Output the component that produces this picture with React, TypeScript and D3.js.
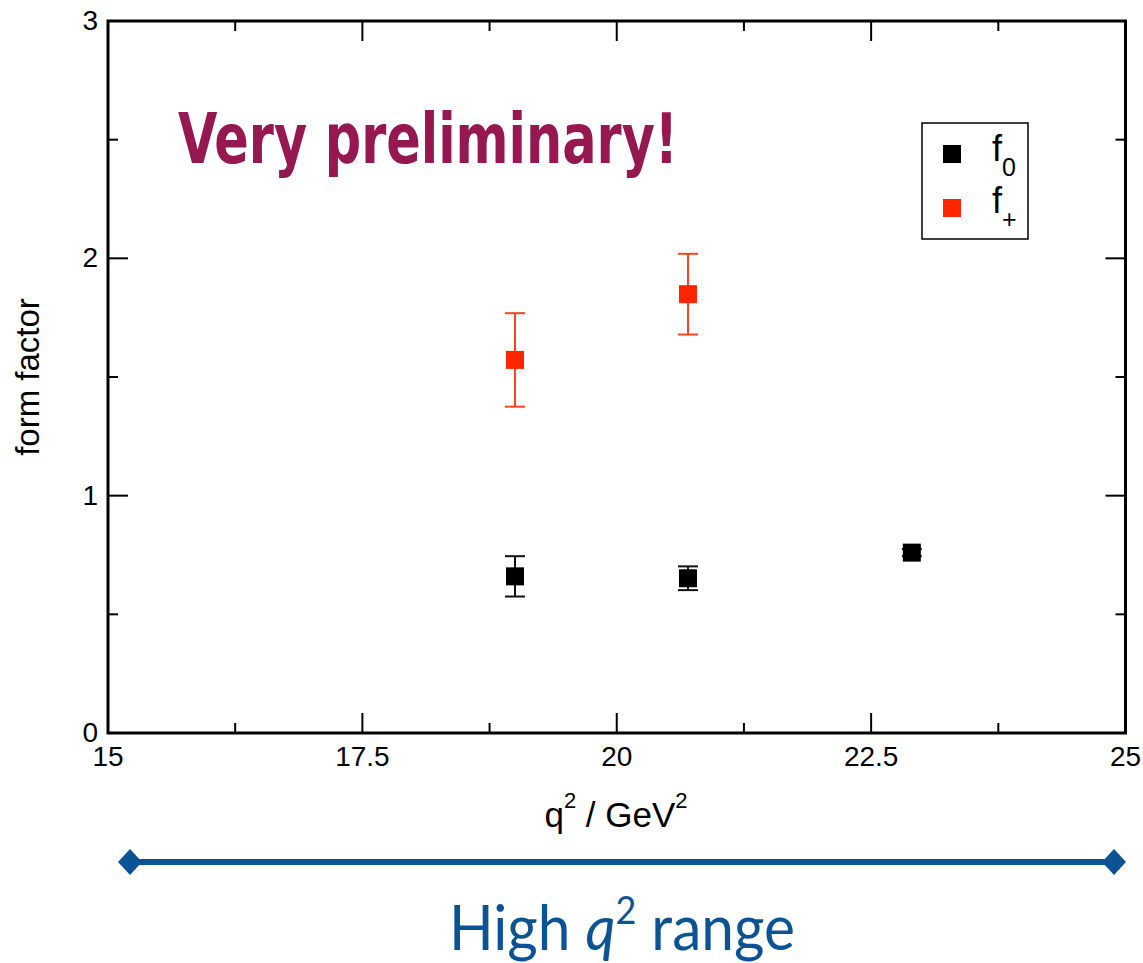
import React, { useEffect, useRef } from "react";
import * as d3 from "d3";

// data
const f0X = [19.0, 20.7, 22.9];
const f0Y = [0.66, 0.652, 0.76];
const f0Err = [0.085, 0.05, 0.015];

const fpX = [19.0, 20.7];
const fpY = [1.572, 1.849];
const fpErr = [0.197, 0.17];

const xMajor = [15, 17.5, 20, 22.5, 25];
const xMajorLabels = ["15", "17.5", "20", "22.5", "25"];
const xMinor = [16.25, 18.75, 21.25, 23.75];
const yMajor = [0, 1, 2, 3];
const yMinor = [0.5, 1.5, 2.5];

const W = 1143, H = 963;
const FONT = "'Liberation Sans', Arial, Helvetica, sans-serif";

export default function App() {
  const ref = useRef<SVGSVGElement>(null);

  useEffect(() => {
    const svg = d3.select(ref.current);
    svg.selectAll("*").remove();

    const left = 108, right = 1125.5, top = 21, bottom = 733;
    const x = d3.scaleLinear().domain([15, 25]).range([left, right]);
    const y = d3.scaleLinear().domain([0, 3]).range([bottom, top]);

    const g = svg.append("g");

    // ticks on all four sides, pointing inward
    const tick = (x1, y1, x2, y2) =>
      g.append("line").attr("x1", x1).attr("y1", y1).attr("x2", x2).attr("y2", y2)
        .attr("stroke", "#000").attr("stroke-width", 2);

    xMajor.forEach(v => { tick(x(v), bottom, x(v), bottom - 20); tick(x(v), top, x(v), top + 20); });
    xMinor.forEach(v => { tick(x(v), bottom, x(v), bottom - 10); tick(x(v), top, x(v), top + 10); });
    yMajor.forEach(v => { tick(left, y(v), left + 20, y(v)); tick(right, y(v), right - 20, y(v)); });
    yMinor.forEach(v => { tick(left, y(v), left + 10, y(v)); tick(right, y(v), right - 10, y(v)); });

    g.append("rect")
      .attr("x", left).attr("y", top)
      .attr("width", right - left).attr("height", bottom - top)
      .attr("fill", "none").attr("stroke", "#000").attr("stroke-width", 3);

    // tick labels
    g.selectAll(".xl").data(xMajor).join("text")
      .attr("x", d => x(d)).attr("y", 766)
      .attr("text-anchor", "middle")
      .style("font-family", FONT).style("font-size", "28px")
      .text((d, i) => xMajorLabels[i]);

    g.selectAll(".yl").data(yMajor).join("text")
      .attr("x", 98).attr("y", d => y(d) + 9)
      .attr("text-anchor", "end")
      .style("font-family", FONT).style("font-size", "28px")
      .text(d => String(d));

    // axis titles
    const xt = g.append("text")
      .attr("x", 616).attr("y", 827)
      .attr("text-anchor", "middle")
      .style("font-family", FONT).style("font-size", "35px");
    xt.append("tspan").text("q");
    xt.append("tspan").attr("dy", -19).style("font-size", "22px").text("2");
    xt.append("tspan").attr("dy", 19).text(" / GeV");
    xt.append("tspan").attr("dy", -19).style("font-size", "22px").text("2");

    g.append("text")
      .attr("transform", "translate(39,377) rotate(-90)")
      .attr("text-anchor", "middle")
      .style("font-family", FONT).style("font-size", "33px")
      .text("form factor");

    // error bars + markers
    const drawSeries = (xs, ys, es, color, barColor) => {
      xs.forEach((xv, i) => {
        const cx = x(xv), y1 = y(ys[i] + es[i]), y2 = y(ys[i] - es[i]);
        g.append("line").attr("x1", cx).attr("x2", cx).attr("y1", y1).attr("y2", y2)
          .attr("stroke", barColor).attr("stroke-width", 2);
        [y1, y2].forEach(yy =>
          g.append("line").attr("x1", cx - 10).attr("x2", cx + 10).attr("y1", yy).attr("y2", yy)
            .attr("stroke", barColor).attr("stroke-width", 2));
      });
      g.selectAll(null).data(xs).join("rect")
        .attr("x", d => x(d) - 9).attr("y", (d, i) => y(ys[i]) - 9)
        .attr("width", 18).attr("height", 18)
        .attr("fill", color);
    };
    drawSeries(f0X, f0Y, f0Err, "#000", "#111");
    drawSeries(fpX, fpY, fpErr, "#ff2600", "#ff4422");

    // legend
    g.append("rect").attr("x", 922).attr("y", 123).attr("width", 106).attr("height", 116)
      .attr("fill", "#fff").attr("stroke", "#000").attr("stroke-width", 1.5);
    g.append("rect").attr("x", 943).attr("y", 145).attr("width", 18).attr("height", 18).attr("fill", "#000");
    g.append("rect").attr("x", 943).attr("y", 199).attr("width", 18).attr("height", 18).attr("fill", "#ff2600");
    const l0 = g.append("text").attr("x", 992).attr("y", 161).style("font-family", FONT).style("font-size", "36px");
    l0.append("tspan").text("f");
    l0.append("tspan").attr("dy", 15).style("font-size", "25px").text("0");
    const l1 = g.append("text").attr("x", 992).attr("y", 213).style("font-family", FONT).style("font-size", "36px");
    l1.append("tspan").text("f");
    l1.append("tspan").attr("dy", 15).style("font-size", "25px").text("+");

    // annotation
    g.append("text")
      .attr("x", 178).attr("y", 163)
      .attr("textLength", 500).attr("lengthAdjust", "spacingAndGlyphs")
      .style("font-family", "'DejaVu Sans Condensed', 'DejaVu Sans', sans-serif")
      .style("font-weight", "bold").style("font-size", "70px")
      .attr("fill", "#951850")
      .text("Very preliminary!");

    // range arrow below the chart
    const blue = "#0b5394";
    g.append("line").attr("x1", 130).attr("x2", 1114).attr("y1", 862).attr("y2", 862)
      .attr("stroke", blue).attr("stroke-width", 6);
    [130, 1114].forEach(cx =>
      g.append("path")
        .attr("d", `M${cx - 12},862 L${cx},849 L${cx + 12},862 L${cx},875 Z`)
        .attr("fill", blue));

    const ht = g.append("text")
      .attr("x", 622).attr("y", 950)
      .attr("text-anchor", "middle")
      .attr("textLength", 346).attr("lengthAdjust", "spacingAndGlyphs")
      .style("font-family", "Lato, 'Open Sans', sans-serif")
      .style("font-size", "62px").attr("fill", blue);
    ht.append("tspan").text("High ");
    ht.append("tspan").style("font-style", "italic").text("q");
    ht.append("tspan").attr("dy", -26).style("font-size", "38px").text("2");
    ht.append("tspan").attr("dy", 26).text(" range");
  }, []);

  return (
    <svg ref={ref} width={W} height={H}
      style={{ position: "absolute", left: 0, top: 0, background: "#fff" }} />
  );
}
